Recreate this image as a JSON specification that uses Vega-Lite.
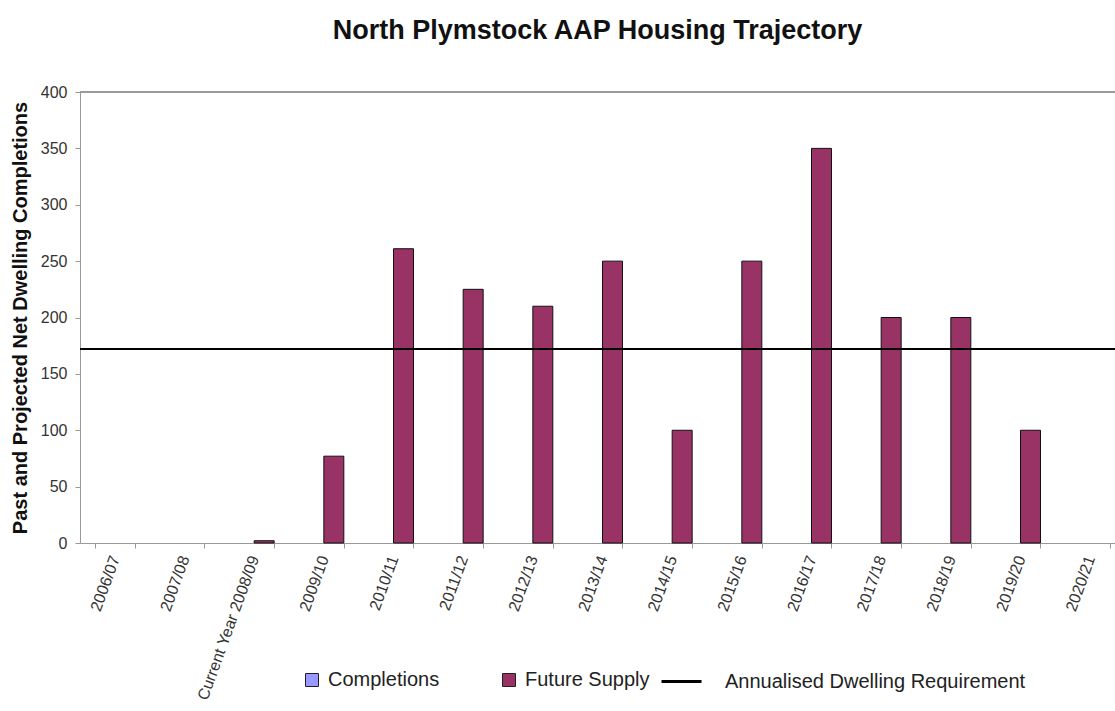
{
  "$schema": "https://vega.github.io/schema/vega-lite/v6.json",
  "autosize": {"type": "none"},
  "width": 1035,
  "height": 451,
  "padding": {"left": 80, "top": 92, "right": 0, "bottom": 168},
  "background": "white",
  "config": {
    "font": "Liberation Sans",
    "view": {"stroke": null},
    "axis": {"grid": false}
  },
  "title": {
    "text": "North Plymstock AAP Housing Trajectory",
    "fontSize": 27,
    "fontWeight": "bold",
    "color": "#111111",
    "anchor": "middle",
    "offset": 39
  },
  "data": {
    "values": [
      {"year": "Current Year 2008/09", "series": "Future Supply", "value": 2},
      {"year": "2009/10", "series": "Future Supply", "value": 77},
      {"year": "2010/11", "series": "Future Supply", "value": 261},
      {"year": "2011/12", "series": "Future Supply", "value": 225},
      {"year": "2012/13", "series": "Future Supply", "value": 210},
      {"year": "2013/14", "series": "Future Supply", "value": 250},
      {"year": "2014/15", "series": "Future Supply", "value": 100},
      {"year": "2015/16", "series": "Future Supply", "value": 250},
      {"year": "2016/17", "series": "Future Supply", "value": 350},
      {"year": "2017/18", "series": "Future Supply", "value": 200},
      {"year": "2018/19", "series": "Future Supply", "value": 200},
      {"year": "2019/20", "series": "Future Supply", "value": 100}
    ]
  },
  "layer": [
    {
      "mark": {"type": "rule", "color": "#999999", "strokeWidth": 1},
      "encoding": {"y": {"datum": 400}}
    },
    {
      "mark": {"type": "bar", "stroke": "#111111", "strokeWidth": 1},
      "encoding": {
        "x": {
          "field": "year",
          "type": "nominal",
          "sort": null,
          "scale": {
            "domain": ["2006/07", "2007/08", "Current Year 2008/09", "2009/10", "2010/11", "2011/12", "2012/13", "2013/14", "2014/15", "2015/16", "2016/17", "2017/18", "2018/19", "2019/20", "2020/21"],
            "range": [0, 1045],
            "paddingInner": 0.426,
            "paddingOuter": 0.213
          },
          "axis": {
            "title": null,
            "labelAngle": -70,
            "labelAlign": "right",
            "labelBaseline": "middle",
            "labelFontSize": 16,
            "labelColor": "#333333",
            "labelPadding": 8,
            "labelOverlap": false,
            "labelLimit": 300,
            "tickBand": "extent",
            "tickSize": 5,
            "tickColor": "#999999",
            "domainColor": "#999999"
          }
        },
        "xOffset": {
          "field": "series",
          "type": "nominal",
          "scale": {"domain": ["Completions", "Future Supply"], "paddingInner": 0, "paddingOuter": 0}
        },
        "y": {
          "field": "value",
          "type": "quantitative",
          "scale": {"domain": [0, 400], "nice": false},
          "axis": {
            "title": "Past and Projected Net Dwelling Completions",
            "titleFontSize": 20,
            "titleFontWeight": "bold",
            "titleColor": "#111111",
            "titlePadding": 10,
            "values": [0, 50, 100, 150, 200, 250, 300, 350, 400],
            "labelFontSize": 16,
            "labelColor": "#333333",
            "labelPadding": 8,
            "tickSize": 5,
            "tickColor": "#999999",
            "domainColor": "#999999"
          }
        },
        "fill": {
          "field": "series",
          "type": "nominal",
          "scale": {"domain": ["Completions", "Future Supply"], "range": ["#9999FF", "#993366"]},
          "legend": {
            "title": null,
            "orient": "none",
            "direction": "horizontal",
            "legendX": 222,
            "legendY": 578,
            "padding": 0,
            "symbolType": "square",
            "symbolSize": 169,
            "symbolStrokeColor": "#222222",
            "symbolStrokeWidth": 1,
            "symbolOpacity": 1,
            "labelFontSize": 20,
            "labelColor": "#222222",
            "labelOffset": 6,
            "columnPadding": 59
          }
        }
      }
    },
    {
      "mark": {"type": "rule", "strokeWidth": 2},
      "encoding": {
        "y": {"datum": 172},
        "stroke": {
          "datum": "Annualised Dwelling Requirement",
          "type": "nominal",
          "scale": {"range": ["#000000"]},
          "legend": {
            "title": null,
            "orient": "none",
            "legendX": 580,
            "legendY": 568,
            "padding": 0,
            "symbolType": "stroke",
            "symbolSize": 1600,
            "symbolStrokeWidth": 3,
            "symbolStrokeColor": "#333333",
            "labelFontSize": 20,
            "labelColor": "#222222",
            "labelOffset": 22,
            "labelLimit": 500
          }
        }
      }
    }
  ]
}
